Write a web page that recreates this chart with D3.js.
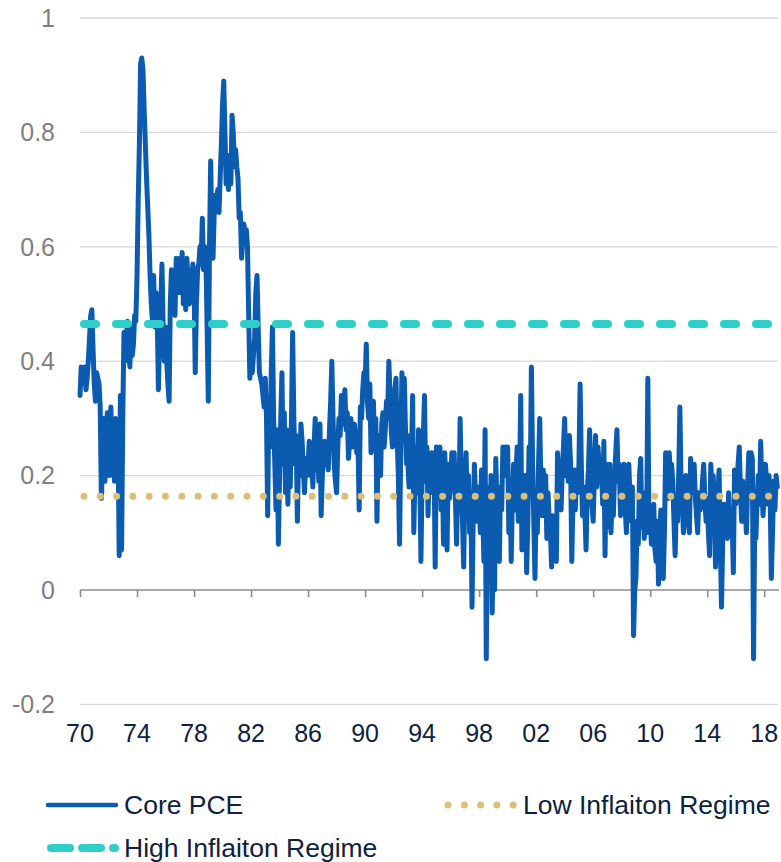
<!DOCTYPE html>
<html>
<head>
<meta charset="utf-8">
<script src="https://cdn.jsdelivr.net/npm/d3@7"></script>
<style>
  html, body { margin: 0; padding: 0; background: #ffffff; }
  svg { display: block; }
</style>
</head>
<body>
<svg id="chart" width="781" height="862"></svg>
<script>
// ---- data (monthly, Jan 1970 .. Dec 2018) ----
const startYear = 1970;
const corePCE = [
  // 1970
  0.34, 0.39, 0.37, 0.36, 0.39, 0.35, 0.37, 0.40, 0.44, 0.48, 0.49, 0.42,
  // 1971
  0.36, 0.33, 0.38, 0.37, 0.36, 0.32, 0.16, 0.22, 0.30, 0.19, 0.24, 0.31,
  // 1972
  0.28, 0.20, 0.32, 0.21, 0.26, 0.19, 0.30, 0.22, 0.27, 0.06, 0.34, 0.07,
  // 1973
  0.30, 0.45, 0.40, 0.44, 0.47, 0.42, 0.39, 0.46, 0.41, 0.43, 0.48, 0.47,
  // 1974
  0.55, 0.68, 0.78, 0.92, 0.93, 0.91, 0.84, 0.78, 0.72, 0.67, 0.62, 0.55,
  // 1975
  0.50, 0.47, 0.55, 0.46, 0.52, 0.48, 0.35, 0.44, 0.50, 0.57, 0.46, 0.40,
  // 1976
  0.46, 0.40, 0.36, 0.33, 0.50, 0.56, 0.50, 0.55, 0.48, 0.58, 0.52, 0.57,
  // 1977
  0.58, 0.52, 0.59, 0.50, 0.55, 0.49, 0.58, 0.53, 0.50, 0.56, 0.52, 0.57,
  // 1978
  0.54, 0.38, 0.50, 0.56, 0.57, 0.60, 0.58, 0.65, 0.56, 0.60, 0.58, 0.46,
  // 1979
  0.33, 0.60, 0.75, 0.62, 0.58, 0.66, 0.69, 0.68, 0.70, 0.66, 0.72, 0.78,
  // 1980
  0.85, 0.89, 0.80, 0.71, 0.72, 0.70, 0.76, 0.71, 0.83, 0.80, 0.74, 0.77,
  // 1981
  0.74, 0.72, 0.65, 0.66, 0.58, 0.61, 0.64, 0.62, 0.63, 0.60, 0.48, 0.37,
  // 1982
  0.40, 0.38, 0.41, 0.44, 0.52, 0.55, 0.46, 0.38, 0.37, 0.36, 0.34, 0.32,
  // 1983
  0.37, 0.30, 0.13, 0.33, 0.25, 0.38, 0.46, 0.30, 0.22, 0.14, 0.28, 0.08,
  // 1984
  0.20, 0.30, 0.38, 0.22, 0.31, 0.17, 0.28, 0.15, 0.25, 0.18, 0.30, 0.45,
  // 1985
  0.30, 0.22, 0.27, 0.12, 0.24, 0.20, 0.29, 0.26, 0.21, 0.17, 0.23, 0.20,
  // 1986
  0.22, 0.26, 0.20, 0.24, 0.18, 0.25, 0.30, 0.21, 0.27, 0.19, 0.29, 0.13,
  // 1987
  0.20, 0.24, 0.26, 0.22, 0.24, 0.21, 0.28, 0.33, 0.40, 0.30, 0.22, 0.19,
  // 1988
  0.17, 0.25, 0.30, 0.27, 0.34, 0.29, 0.33, 0.35, 0.28, 0.31, 0.23, 0.26,
  // 1989
  0.30, 0.25, 0.28, 0.29, 0.27, 0.24, 0.26, 0.14, 0.32, 0.30, 0.35, 0.38,
  // 1990
  0.36, 0.43, 0.33, 0.30, 0.36, 0.24, 0.28, 0.33, 0.25, 0.30, 0.12, 0.27,
  // 1991
  0.27, 0.20, 0.29, 0.31, 0.25, 0.28, 0.33, 0.30, 0.40, 0.34, 0.28, 0.25,
  // 1992
  0.30, 0.35, 0.37, 0.26, 0.20, 0.08, 0.24, 0.38, 0.30, 0.37, 0.28, 0.22,
  // 1993
  0.22, 0.18, 0.27, 0.23, 0.34, 0.10, 0.20, 0.25, 0.17, 0.28, 0.21, 0.05,
  // 1994
  0.20, 0.27, 0.34, 0.19, 0.25, 0.13, 0.21, 0.17, 0.24, 0.20, 0.24, 0.04,
  // 1995
  0.25, 0.19, 0.23, 0.25, 0.14, 0.22, 0.08, 0.24, 0.19, 0.07, 0.22, 0.16,
  // 1996
  0.18, 0.24, 0.21, 0.24, 0.16, 0.08, 0.20, 0.14, 0.30, 0.18, 0.12, 0.04,
  // 1997
  0.18, 0.24, 0.14, 0.20, 0.10, 0.17, -0.03, 0.12, 0.22, 0.16, 0.12, 0.18,
  // 1998
  0.16, 0.10, 0.21, 0.14, 0.05, 0.28, -0.12, 0.12, 0.18, 0.05, 0.20, -0.04,
  // 1999
  0.10, 0.00, 0.23, 0.15, 0.12, 0.05, 0.18, 0.14, 0.25, 0.20, 0.25, 0.22,
  // 2000
  0.25, 0.10, 0.18, 0.05, 0.16, 0.22, 0.14, 0.20, 0.25, 0.12, 0.18, 0.34,
  // 2001
  0.07, 0.15, 0.10, 0.20, 0.03, 0.12, 0.25, 0.18, 0.39, 0.22, 0.12, 0.02,
  // 2002
  0.16, 0.10, 0.22, 0.30, 0.18, 0.13, 0.21, 0.15, 0.20, 0.09, 0.17, 0.12,
  // 2003
  0.10, 0.04, 0.13, 0.06, 0.11, 0.05, 0.24, 0.17, 0.20, 0.14, 0.21, 0.25,
  // 2004
  0.30, 0.20, 0.24, 0.19, 0.27, 0.22, 0.05, 0.16, 0.21, 0.14, 0.21, 0.17,
  // 2005
  0.22, 0.36, 0.22, 0.13, 0.18, 0.14, 0.07, 0.17, 0.21, 0.28, 0.20, 0.15,
  // 2006
  0.12, 0.20, 0.27, 0.18, 0.25, 0.22, 0.19, 0.21, 0.15, 0.26, 0.06, 0.22,
  // 2007
  0.16, 0.11, 0.22, 0.10, 0.17, 0.13, 0.20, 0.24, 0.28, 0.19, 0.22, 0.13,
  // 2008
  0.18, 0.15, 0.22, 0.14, 0.10, 0.19, 0.22, 0.16, 0.12, 0.18, -0.08, 0.00,
  // 2009
  0.02, 0.12, 0.08, 0.20, 0.23, 0.11, 0.17, 0.09, 0.15, 0.10, 0.37, 0.10,
  // 2010
  0.13, 0.08, 0.11, 0.15, 0.07, 0.05, 0.12, 0.01, 0.09, 0.14, 0.06, 0.02,
  // 2011
  0.10, 0.24, 0.19, 0.16, 0.24, 0.20, 0.22, 0.19, 0.12, 0.06, 0.15, 0.12,
  // 2012
  0.20, 0.32, 0.18, 0.15, 0.10, 0.16, 0.20, 0.14, 0.12, 0.10, 0.23, 0.17,
  // 2013
  0.18, 0.22, 0.16, 0.13, 0.10, 0.17, 0.14, 0.15, 0.19, 0.22, 0.16, 0.12,
  // 2014
  0.16, 0.10, 0.06, 0.22, 0.18, 0.20, 0.14, 0.04, 0.12, 0.17, 0.21, 0.09,
  // 2015
  -0.03, 0.08, 0.15, 0.12, 0.14, 0.09, 0.17, 0.10, 0.14, 0.12, 0.03, 0.21,
  // 2016
  0.15, 0.18, 0.22, 0.25, 0.17, 0.12, 0.19, 0.16, 0.14, 0.10, 0.18, 0.24,
  // 2017
  0.20, 0.24, 0.23, -0.12, 0.12, 0.09, 0.16, 0.20, 0.15, 0.26, 0.18, 0.13,
  // 2018
  0.17, 0.22, 0.19, 0.15, 0.20, 0.16, 0.02, 0.10, 0.19, 0.14, 0.20, 0.18
];
const highRegime = 0.465;
const lowRegime = 0.164;
const yTicks = [-0.2, 0, 0.2, 0.4, 0.6, 0.8, 1];
const yTickLabels = ["-0.2", "0", "0.2", "0.4", "0.6", "0.8", "1"];
const xTicks = [1970, 1974, 1978, 1982, 1986, 1990, 1994, 1998, 2002, 2006, 2010, 2014, 2018];
const xTickLabels = ["70", "74", "78", "82", "86", "90", "94", "98", "02", "06", "10", "14", "18"];
const legendItems = ["Core PCE", "Low Inflaiton Regime", "High Inflaiton Regime"];

// ---- styles ----
const colLine = "#0b5cb1";
const colHigh = "#2ecfc9";
const colLow = "#d9bf78";
const colGrid = "#d9d9d9";
const colAxis = "#8c8c8c";
const colYText = "#7f7f7f";
const colText = "#0d2240";
const font = "'Liberation Sans', Arial, sans-serif";

const svg = d3.select("#chart");
const x = d3.scaleLinear().domain([1970, 2019.05]).range([80, 779.2]);
const y = d3.scaleLinear().domain([-0.2, 1]).range([704.4, 18]);

const data = corePCE.map((v, i) => ({ t: startYear + i / 12, v }));

// gridlines (except zero, which is the axis)
svg.append("g").selectAll("line")
  .data(yTicks.filter(d => d !== 0))
  .join("line")
  .attr("x1", 80).attr("x2", 778)
  .attr("y1", d => y(d)).attr("y2", d => y(d))
  .attr("stroke", colGrid).attr("stroke-width", 1.3);

// y labels
svg.append("g").selectAll("text")
  .data(yTicks)
  .join("text")
  .attr("x", 55)
  .attr("y", d => y(d))
  .attr("dy", "0.35em")
  .attr("text-anchor", "end")
  .attr("font-family", font).attr("font-size", 25)
  .attr("fill", colYText)
  .text((d, i) => yTickLabels[i]);

// x axis at zero
const xAxis = d3.axisBottom(x)
  .tickValues(xTicks)
  .tickSize(7)
  .tickFormat("");
const gx = svg.append("g")
  .attr("transform", `translate(0,${y(0)})`)
  .call(xAxis);
gx.select(".domain").attr("stroke", colAxis).attr("stroke-width", 1.6)
  .attr("d", `M80,0H779`);
gx.selectAll(".tick line").attr("stroke", colAxis).attr("stroke-width", 1.6);

// x labels
svg.append("g").selectAll("text")
  .data(xTicks)
  .join("text")
  .attr("x", d => x(d))
  .attr("y", 733)
  .attr("dy", "0.35em")
  .attr("text-anchor", "middle")
  .attr("font-family", font).attr("font-size", 25)
  .attr("fill", colText)
  .text((d, i) => xTickLabels[i]);

// core PCE line
const line = d3.line().x(d => x(d.t)).y(d => y(d.v));
svg.append("path")
  .datum(data)
  .attr("d", line)
  .attr("fill", "none")
  .attr("stroke", colLine)
  .attr("stroke-width", 5)
  .attr("stroke-linejoin", "round")
  .attr("stroke-linecap", "round");

// regime lines (drawn on top of the series)
svg.append("line")
  .attr("x1", x(1970) + 4).attr("x2", 779)
  .attr("y1", y(lowRegime)).attr("y2", y(lowRegime))
  .attr("stroke", colLow).attr("stroke-width", 7)
  .attr("stroke-linecap", "round")
  .attr("stroke-dasharray", "0 16.3");

svg.append("line")
  .attr("x1", x(1970) + 4).attr("x2", 776)
  .attr("y1", y(highRegime)).attr("y2", y(highRegime))
  .attr("stroke", colHigh).attr("stroke-width", 8)
  .attr("stroke-linecap", "round")
  .attr("stroke-dasharray", "12 20");

// legend
const lg = svg.append("g");
// Core PCE
lg.append("line").attr("x1", 48).attr("x2", 116).attr("y1", 805).attr("y2", 805)
  .attr("stroke", colLine).attr("stroke-width", 4.5).attr("stroke-linecap", "round");
lg.append("text").attr("x", 124).attr("y", 805).attr("dy", "0.35em")
  .attr("font-family", font).attr("font-size", 26.5).attr("fill", colText)
  .text(legendItems[0]);
// Low
lg.append("line").attr("x1", 448).attr("x2", 516).attr("y1", 805).attr("y2", 805)
  .attr("stroke", colLow).attr("stroke-width", 7).attr("stroke-linecap", "round")
  .attr("stroke-dasharray", "0 16.3");
lg.append("text").attr("x", 523).attr("y", 805).attr("dy", "0.35em")
  .attr("font-family", font).attr("font-size", 26.5).attr("fill", colText)
  .text(legendItems[1]);
// High
lg.append("line").attr("x1", 51).attr("x2", 115).attr("y1", 848).attr("y2", 848)
  .attr("stroke", colHigh).attr("stroke-width", 8).attr("stroke-linecap", "round")
  .attr("stroke-dasharray", "19 12");
lg.append("text").attr("x", 124).attr("y", 848).attr("dy", "0.35em")
  .attr("font-family", font).attr("font-size", 26.5).attr("fill", colText)
  .text(legendItems[2]);
</script>
</body>
</html>
